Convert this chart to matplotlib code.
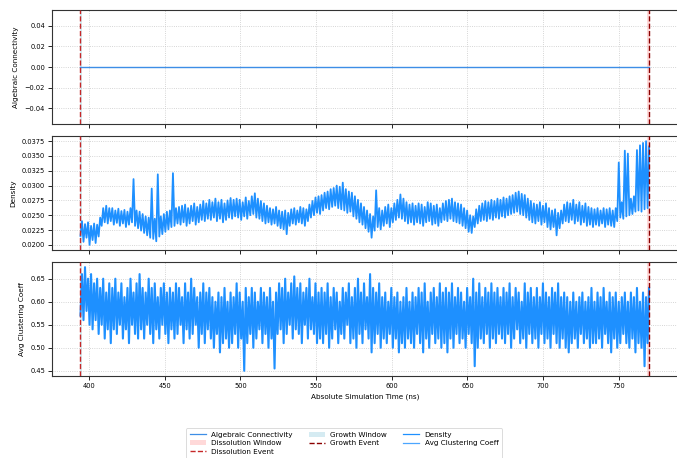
import numpy as np
import matplotlib
matplotlib.use('Agg')
import matplotlib.pyplot as plt
import matplotlib.patches as patches
from matplotlib.lines import Line2D

# simulation window (ns)
t_start = 394.3
t_end = 770.0
dissolution_event_t = 394.3
growth_event_t = 770.0
growth_window = (394.3, 395.4)
dissolution_window = (768.8, 770.3)

# density: low / high sample per 2 ns block
density_lo = [
    .0215, .0205, .0212, .0200, .0208, .0203, .0214, .0232, .0238, .0236,
    .0240, .0234, .0237, .0232, .0236, .0230, .0234, .0238, .0232, .0228,
    .0224, .0220, .0216, .0212, .0210, .0206, .0214, .0218, .0222, .0226,
    .0230, .0232, .0236, .0234, .0238, .0232, .0236, .0240, .0234, .0238,
    .0242, .0240, .0244, .0242, .0246, .0240, .0244, .0238, .0242, .0246,
    .0244, .0248, .0246, .0242, .0248, .0244, .0250, .0252, .0246, .0244,
    .0240, .0236, .0238, .0234, .0236, .0232, .0228, .0226, .0218, .0232,
    .0236, .0234, .0238, .0236, .0232, .0240, .0246, .0250, .0254, .0252,
    .0258, .0262, .0260, .0264, .0266, .0262, .0260, .0258, .0254, .0256,
    .0248, .0244, .0238, .0234, .0228, .0222, .0212, .0224, .0230, .0226,
    .0232, .0236, .0230, .0238, .0242, .0246, .0244, .0240, .0236, .0238,
    .0234, .0238, .0236, .0232, .0238, .0240, .0234, .0236, .0232, .0238,
    .0242, .0240, .0244, .0240, .0238, .0236, .0232, .0228, .0222, .0220,
    .0230, .0236, .0240, .0242, .0240, .0244, .0242, .0246, .0244, .0248,
    .0246, .0250, .0252, .0254, .0256, .0252, .0250, .0246, .0242, .0238,
    .0236, .0240, .0234, .0238, .0230, .0226, .0230, .0216, .0228, .0236,
    .0240, .0238, .0242, .0236, .0240, .0234, .0238, .0232, .0234, .0230,
    .0234, .0232, .0236, .0230, .0234, .0232, .0230, .0240, .0246, .0244,
    .0248, .0250, .0252, .0256, .0258, .0256, .0260, .0262,
]
density_hi = [
    .0240, .0235, .0238, .0232, .0236, .0234, .0246, .0262, .0266, .0262,
    .0262, .0258, .0261, .0257, .0259, .0256, .0262, .0311, .0258, .0256,
    .0252, .0248, .0246, .0295, .0244, .0319, .0248, .0252, .0256, .0258,
    .0321, .0262, .0264, .0266, .0268, .0262, .0266, .0270, .0264, .0268,
    .0274, .0270, .0276, .0272, .0278, .0272, .0276, .0270, .0275, .0279,
    .0276, .0278, .0276, .0272, .0280, .0274, .0282, .0287, .0278, .0274,
    .0270, .0266, .0262, .0260, .0264, .0258, .0256, .0258, .0254, .0260,
    .0262, .0258, .0264, .0262, .0260, .0268, .0274, .0280, .0282, .0284,
    .0288, .0290, .0294, .0296, .0300, .0298, .0305, .0294, .0290, .0288,
    .0282, .0276, .0270, .0264, .0258, .0252, .0248, .0292, .0262, .0258,
    .0264, .0268, .0262, .0270, .0276, .0285, .0278, .0272, .0268, .0270,
    .0266, .0270, .0268, .0264, .0272, .0270, .0266, .0268, .0262, .0270,
    .0274, .0276, .0278, .0272, .0270, .0268, .0262, .0258, .0250, .0248,
    .0260, .0266, .0270, .0274, .0272, .0276, .0274, .0278, .0276, .0280,
    .0278, .0282, .0284, .0288, .0290, .0286, .0284, .0278, .0274, .0270,
    .0268, .0272, .0266, .0270, .0262, .0258, .0260, .0254, .0258, .0268,
    .0272, .0270, .0276, .0268, .0272, .0266, .0270, .0264, .0262, .0260,
    .0262, .0258, .0262, .0260, .0262, .0258, .0262, .0339, .0272, .0359,
    .0354, .0278, .0282, .0360, .0368, .0372, .0375, .0366,
]

# average clustering coefficient: low / high sample per 2 ns block
clust_lo = [
    .57, .56, .58, .55, .54, .56, .53, .55, .52, .54,
    .51, .54, .53, .55, .52, .54, .51, .55, .53, .52,
    .54, .52, .55, .53, .51, .54, .52, .55, .53, .51,
    .54, .52, .53, .55, .51, .54, .52, .53, .55, .50,
    .53, .51, .54, .52, .50, .53, .49, .51, .52, .50,
    .51, .53, .50, .52, .45, .51, .53, .50, .52, .54,
    .51, .53, .50, .52, .455, .53, .54, .51, .53, .55,
    .52, .54, .53, .51, .55, .52, .54, .53, .51, .52,
    .51, .53, .50, .52, .54, .51, .53, .52, .55, .51,
    .52, .50, .53, .51, .54, .52, .49, .51, .53, .50,
    .52, .51, .53, .50, .52, .49, .51, .50, .52, .51,
    .50, .53, .51, .49, .52, .50, .53, .51, .52, .50,
    .51, .49, .52, .50, .53, .51, .52, .50, .53, .51,
    .46, .50, .52, .51, .53, .50, .52, .51, .53, .52,
    .51, .53, .50, .52, .54, .51, .52, .50, .53, .51,
    .52, .50, .53, .51, .52, .50, .53, .51, .50, .52,
    .50, .49, .51, .52, .50, .53, .51, .52, .50, .51,
    .51, .52, .50, .53, .51, .49, .52, .50, .51, .53,
    .51, .50, .52, .49, .51, .50, .46, .51,
]
clust_hi = [
    .66, .675, .65, .66, .64, .65, .63, .65, .62, .64,
    .63, .65, .62, .64, .61, .63, .65, .62, .64, .66,
    .63, .62, .65, .63, .64, .61, .63, .64, .62, .63,
    .62, .64, .63, .61, .64, .62, .65, .63, .61, .62,
    .64, .62, .63, .61, .60, .62, .61, .63, .60, .62,
    .61, .64, .62, .60, .63, .61, .63, .62, .60, .63,
    .62, .61, .63, .60, .62, .64, .63, .65, .62, .64,
    .655, .63, .64, .62, .63, .65, .61, .64, .62, .63,
    .62, .64, .61, .63, .62, .60, .63, .62, .64, .61,
    .63, .65, .62, .64, .61, .66, .63, .62, .64, .61,
    .62, .60, .63, .61, .62, .60, .61, .63, .60, .62,
    .61, .63, .62, .64, .60, .62, .63, .61, .64, .62,
    .63, .62, .64, .61, .63, .62, .60, .63, .61, .65,
    .62, .64, .61, .63, .62, .64, .62, .63, .61, .63,
    .62, .64, .61, .63, .62, .60, .64, .62, .63, .61,
    .63, .61, .64, .62, .61, .63, .62, .64, .61, .62,
    .61, .60, .62, .60, .61, .62, .60, .61, .63, .60,
    .62, .61, .63, .60, .62, .61, .62, .60, .61, .62,
    .60, .62, .61, .63, .60, .62, .61, .63,
]


def interleave(lo, hi):
    out = np.empty(2 * len(lo))
    out[0::2] = lo
    out[1::2] = hi
    return out


density = interleave(density_lo, density_hi)
clustering = interleave(clust_lo, clust_hi)
time = np.linspace(t_start, t_end, len(density))
alg_conn = np.zeros_like(time)

LINE_C = '#1e90ff'
ALG_C = '#3d8ee6'
DIS_C = '#c62828'
GRO_C = '#8b0000'
FS_TICK = 4.8
FS_LABEL = 5.2

fig = plt.figure(figsize=(6.77, 4.58), dpi=100)
left, width, height = 52 / 677, 626 / 677, 114 / 458
bottoms = [1 - 124 / 458, 1 - 250 / 458, 1 - 376 / 458]
ax1 = fig.add_axes([left, bottoms[0], width, height])
ax2 = fig.add_axes([left, bottoms[1], width, height], sharex=ax1)
ax3 = fig.add_axes([left, bottoms[2], width, height], sharex=ax1)
axes = [ax1, ax2, ax3]

ax1.plot(time, alg_conn, color=ALG_C, lw=1.0, zorder=3)
ax2.plot(time, density, color=LINE_C, lw=1.3, zorder=3)
ax3.plot(time, clustering, color=LINE_C, lw=1.5, zorder=3)

for ax in axes:
    ax.axvspan(*growth_window, color='lightblue', alpha=0.5, lw=0)
    ax.axvspan(*dissolution_window, color='red', alpha=0.15, lw=0)
    ax.axvline(dissolution_event_t, color=DIS_C, ls='--', lw=1.0, zorder=4)
    ax.axvline(growth_event_t, color=GRO_C, ls='--', lw=1.0, zorder=4)
    ax.grid(True, ls=':', lw=0.6, color='#c8c8c8')
    ax.tick_params(labelsize=FS_TICK, length=3, width=0.6, pad=2)
    for s in ax.spines.values():
        s.set_linewidth(0.8)
        s.set_color('#333333')

ax1.tick_params(labelbottom=False)
ax2.tick_params(labelbottom=False)

ax1.set_ylabel('Algebraic Connectivity', fontsize=FS_LABEL)
ax2.set_ylabel('Density', fontsize=FS_LABEL)
ax3.set_ylabel('Avg Clustering Coeff', fontsize=FS_LABEL)
ax3.set_xlabel('Absolute Simulation Time (ns)', fontsize=FS_LABEL, labelpad=3)

handles = [
    Line2D([], [], color=ALG_C, lw=0.9),
    patches.Patch(color='red', alpha=0.15, lw=0),
    Line2D([], [], color=DIS_C, ls='--', lw=1.0),
    patches.Patch(color='lightblue', alpha=0.5, lw=0),
    Line2D([], [], color=GRO_C, ls='--', lw=1.0),
    Line2D([], [], color=LINE_C, lw=0.9),
    Line2D([], [], color=LINE_C, lw=0.9, alpha=0.8),
]
labels = ['Algebraic Connectivity', 'Dissolution Window', 'Dissolution Event',
          'Growth Window', 'Growth Event', 'Density', 'Avg Clustering Coeff']
leg = fig.legend(handles, labels, loc='upper center', ncol=3,
                 bbox_to_anchor=(344 / 677, 1 - 424.5 / 458),
                 fontsize=FS_LABEL, frameon=True, columnspacing=2.2,
                 handlelength=2.2, borderpad=0.5, labelspacing=0.35)
leg.get_frame().set_edgecolor('#cccccc')
leg.get_frame().set_linewidth(0.6)

fig.savefig('out.png', dpi=100)
